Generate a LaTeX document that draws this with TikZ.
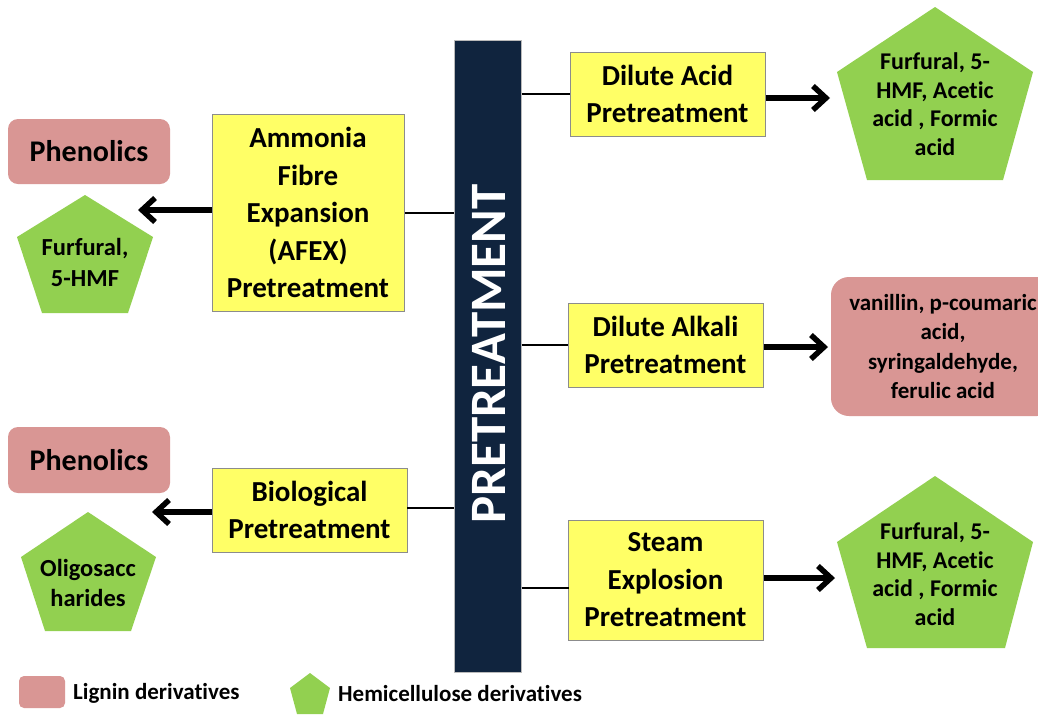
\documentclass[tikz,border=0pt]{standalone}
\usepackage{fontspec}
\setmainfont{Carlito}[Ligatures=NoCommon]
\usetikzlibrary{arrows.meta}
\definecolor{boxyellow}{HTML}{FFFF66}
\definecolor{boxborder}{HTML}{8C8C8C}
\definecolor{ligninred}{HTML}{D99694}
\definecolor{hemigreen}{HTML}{92D050}
\definecolor{barnavy}{HTML}{10243E}
\tikzset{
  pbox/.style={draw=boxborder, line width=1pt, fill=boxyellow, align=center, inner sep=0pt,
    font=\bfseries\fontsize{29}{37.5}\selectfont, minimum width=195pt},
  redbox/.style={fill=ligninred, rounded corners=10pt, align=center, inner sep=0pt,
    font=\bfseries\fontsize{30}{36}\selectfont},
  pentfill/.style={fill=hemigreen},
  penttext/.style={align=center, inner sep=0pt, font=\bfseries\fontsize{24}{28.5}\selectfont},
  thinline/.style={line width=2pt, black},
  bigarrow/.style={line width=5.5pt, black, -{Straight Barb[length=13pt,width=24pt]}},
  legtext/.style={anchor=west, inner sep=0pt, font=\bfseries\fontsize{23}{25}\selectfont}
}
\begin{document}
\begin{tikzpicture}[x=1pt, y=-1pt]
\useasboundingbox (0,0) rectangle (1038,716);
\clip (0,0) rectangle (1038,716);
\fill[white] (0,0) rectangle (1038,716);

% central bar
\node[draw=boxborder!60, line width=1pt, fill=barnavy, minimum width=67pt, minimum height=632pt, inner sep=0pt] (bar) at (487.5,356) {};
\node[rotate=90, text=white, font=\bfseries\fontsize{51}{51}\selectfont, inner sep=0pt] (bartext) at (489,354) {PRETREATMENT};

% pretreatment boxes
\node[pbox, minimum height=84pt] (acid) at (667.5,94) {Dilute Acid\\Pretreatment};
\node[pbox, minimum height=84pt] (alkali) at (665.5,345) {Dilute Alkali\\Pretreatment};
\node[pbox, minimum height=120pt] (steam) at (665.5,580) {Steam\\Explosion\\Pretreatment};
\node[pbox, minimum width=192pt, minimum height=197pt] (afex) at (308,212.5) {Ammonia\\Fibre\\Expansion\\(AFEX)\\Pretreatment};
\node[pbox, minimum height=84pt] (bio) at (309.5,510) {Biological\\Pretreatment};

% connectors from bar
\draw[thinline] (bar.east |- acid.west) -- (acid.west);
\draw[thinline] (bar.east |- alkali.west) -- (alkali.west);
\draw[thinline] (bar.east |- steam.west) ++(0,8) -- ++(47,0);
\draw[thinline] (bar.west |- afex.east) -- (afex.east);
\draw[thinline] (bar.west |- bio.east) ++(0,-2) -- ++(-47,0);

% product pentagons (hemicellulose)
\fill[pentfill] (935,7) -- (1033,72) -- (1003,180) -- (867,180) -- (837,72) -- cycle;
\node[penttext] (p1) at (935,104) {Furfural, 5-\\HMF, Acetic\\acid , Formic\\acid};
\fill[pentfill] (935,476) -- (1033,542) -- (1005,648) -- (867,648) -- (837,542) -- cycle;
\node[penttext] (p3) at (935,574) {Furfural, 5-\\HMF, Acetic\\acid , Formic\\acid};
\fill[pentfill] (85,195) -- (153,237) -- (128,313) -- (42,313) -- (17,237) -- cycle;
\node[penttext, font=\bfseries\fontsize{24.5}{31}\selectfont] (s1) at (85,262) {Furfural,\\5-HMF};
\fill[pentfill] (88,512) -- (156,557) -- (131,631) -- (45,631) -- (21,557) -- cycle;
\node[penttext, font=\bfseries\fontsize{24.5}{30}\selectfont] (s2) at (88,583) {Oligosacc\\harides};

% lignin boxes
\node[redbox, rounded corners=18pt, minimum width=224pt, minimum height=139pt,
      font=\bfseries\fontsize{23}{29.5}\selectfont] (lig) at (943,346.5) {vanillin, p-coumaric\\acid,\\syringaldehyde,\\ferulic acid};
\node[redbox, minimum width=162pt, minimum height=65pt] (ph1) at (89,151.5) {Phenolics};
\node[redbox, minimum width=162pt, minimum height=66pt] (ph2) at (89,460) {Phenolics};

% arrows
\coordinate (a1) at (830,98);
\coordinate (a2) at (828,347);
\coordinate (a3) at (835,578);
\coordinate (a4) at (138,210);
\coordinate (a5) at (152,512);
\draw[bigarrow] (acid.east |- a1) -- (a1);
\draw[bigarrow] (alkali.east |- a2) -- (a2);
\draw[bigarrow] (steam.east |- a3) -- (a3);
\draw[bigarrow] (afex.west |- a4) -- (a4);
\draw[bigarrow] (bio.west |- a5) -- (a5);

% legend
\node[fill=ligninred, rounded corners=5pt, minimum width=46pt, minimum height=32pt, inner sep=0pt] (legred) at (42,692) {};
\node[legtext] (legredtext) at (73,693) {Lignin derivatives};
\fill[pentfill] (310,673) -- (330,688) -- (323,714) -- (297,714) -- (290,688) -- cycle;
\coordinate (leggreen) at (310,693);
\node[legtext] (leggreentext) at (338,693) {Hemicellulose derivatives};
\end{tikzpicture}
\end{document}
